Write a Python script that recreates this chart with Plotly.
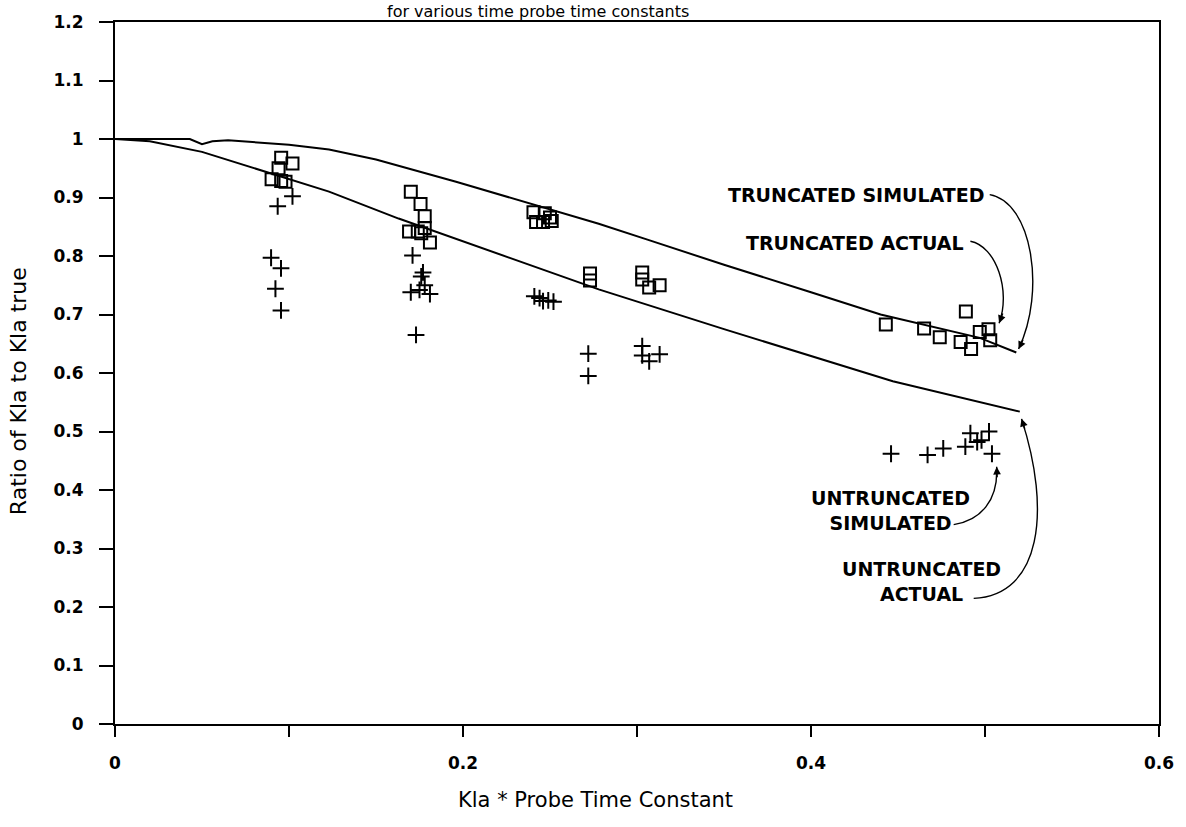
import plotly.graph_objects as go

# Simulated curves: ratio of measured to true Kla vs Kla * probe time constant
trunc_sim_x = [0.0, 0.02, 0.043, 0.050, 0.056, 0.065, 0.10, 0.123, 0.15, 0.196, 0.25, 0.278,
               0.306, 0.35, 0.40, 0.44, 0.497, 0.518]
trunc_sim_y = [1.0, 1.0, 1.0, 0.991, 0.996, 0.998, 0.990, 0.982, 0.965, 0.927, 0.880, 0.855,
               0.828, 0.785, 0.738, 0.700, 0.660, 0.635]

untrunc_act_x = [0.0, 0.02, 0.05, 0.087, 0.123, 0.163, 0.20, 0.278, 0.35, 0.447, 0.52]
untrunc_act_y = [1.0, 0.996, 0.978, 0.944, 0.910, 0.864, 0.825, 0.743, 0.675, 0.586, 0.534]

# Truncated fits (open squares)
sq_x = [0.090, 0.094, 0.0955, 0.0955, 0.098, 0.102,
        0.170, 0.1756, 0.178, 0.169, 0.174, 0.178, 0.176, 0.181,
        0.2405, 0.247, 0.250, 0.242, 0.246, 0.251,
        0.273, 0.273, 0.303, 0.303, 0.307, 0.313,
        0.443, 0.465, 0.474, 0.486, 0.489, 0.492, 0.497, 0.502, 0.503]
sq_y = [0.931, 0.950, 0.968, 0.928, 0.927, 0.958,
        0.910, 0.889, 0.868, 0.842, 0.842, 0.848, 0.839, 0.823,
        0.875, 0.873, 0.866, 0.858, 0.858, 0.860,
        0.770, 0.758, 0.772, 0.760, 0.746, 0.750,
        0.683, 0.676, 0.661, 0.653, 0.705, 0.641, 0.670, 0.675, 0.656]

# Untruncated fits (plus signs)
pl_x = [0.102, 0.0935, 0.0897, 0.0954, 0.0922, 0.0954,
        0.171, 0.177, 0.176, 0.170, 0.175, 0.178, 0.181, 0.173,
        0.241, 0.244, 0.246, 0.249, 0.252,
        0.272, 0.272, 0.303, 0.303, 0.307, 0.313,
        0.446, 0.467, 0.476, 0.4887, 0.4916, 0.4955, 0.498, 0.5023, 0.504]
pl_y = [0.902, 0.885, 0.797, 0.779, 0.744, 0.707,
        0.801, 0.772, 0.765, 0.738, 0.742, 0.750, 0.735, 0.665,
        0.731, 0.728, 0.723, 0.724, 0.722,
        0.633, 0.595, 0.646, 0.630, 0.620, 0.632,
        0.462, 0.460, 0.471, 0.474, 0.497, 0.482, 0.485, 0.500, 0.462]

x_tickvals = [0, 0.1, 0.2, 0.3, 0.4, 0.5, 0.6]
x_ticktext = ["0", "", "0.2", "", "0.4", "", "0.6"]
y_tickvals = [0, 0.1, 0.2, 0.3, 0.4, 0.5, 0.6, 0.7, 0.8, 0.9, 1.0, 1.1, 1.2]
y_ticktext = ["0", "0.1", "0.2", "0.3", "0.4", "0.5", "0.6", "0.7", "0.8", "0.9", "1", "1.1", "1.2"]

FONT = "DejaVu Sans"
INK = "black"

fig = go.Figure()
fig.add_trace(go.Scatter(x=trunc_sim_x, y=trunc_sim_y, mode="lines",
                         line=dict(color=INK, width=2), showlegend=False))
fig.add_trace(go.Scatter(x=untrunc_act_x, y=untrunc_act_y, mode="lines",
                         line=dict(color=INK, width=2), showlegend=False))
fig.add_trace(go.Scatter(x=sq_x, y=sq_y, mode="markers",
                         marker=dict(symbol="square-open", size=12, color=INK,
                                     line=dict(color=INK, width=2)),
                         showlegend=False))
fig.add_trace(go.Scatter(x=pl_x, y=pl_y, mode="markers",
                         marker=dict(symbol="cross-thin", size=12, color=INK,
                                     line=dict(color=INK, width=2)),
                         showlegend=False))

# Curved leader lines (cubic Bezier in data coordinates) ending in arrowheads
leaders = [
    # (start, ctrl1, ctrl2, end)
    ((0.5027, 0.905), (0.5267, 0.893), (0.5353, 0.741), (0.5193, 0.641)),
    ((0.4916, 0.8253), (0.5065, 0.8168), (0.5150, 0.740), (0.5081, 0.6852)),
    ((0.4820, 0.3409), (0.4974, 0.3477), (0.5077, 0.3818), (0.5067, 0.4397)),
    ((0.4935, 0.2148), (0.5324, 0.2199), (0.5381, 0.3648), (0.5210, 0.5216)),
]
PX_X = 1746.7  # pixels per x unit
PX_Y = 586.7   # pixels per y unit
for (s, c1, c2, e) in leaders:
    path = (f"M {s[0]},{s[1]} C {c1[0]},{c1[1]} {c2[0]},{c2[1]} {e[0]},{e[1]}")
    fig.add_shape(type="path", path=path, xref="x", yref="y",
                  line=dict(color=INK, width=1.4))
    dx = (c2[0] - e[0]) * PX_X
    dy = -(c2[1] - e[1]) * PX_Y
    n = (dx * dx + dy * dy) ** 0.5
    fig.add_annotation(x=e[0], y=e[1], xref="x", yref="y", text="",
                       showarrow=True, arrowhead=2, arrowsize=1.1, arrowwidth=1.4,
                       arrowcolor=INK, ax=dx / n * 12, ay=dy / n * 12)

label_font = dict(family=FONT, size=19, color=INK, weight="bold")
fig.add_annotation(x=0.501, y=0.905, xref="x", yref="y", text="TRUNCATED SIMULATED",
                   showarrow=False, xanchor="right", yanchor="middle", font=label_font)
fig.add_annotation(x=0.489, y=0.823, xref="x", yref="y", text="TRUNCATED ACTUAL",
                   showarrow=False, xanchor="right", yanchor="middle", font=label_font)
fig.add_annotation(x=0.4455, y=0.365, xref="x", yref="y", text="UNTRUNCATED<br>SIMULATED",
                   showarrow=False, xanchor="center", yanchor="middle", align="center",
                   font=label_font)
fig.add_annotation(x=0.4637, y=0.243, xref="x", yref="y", text="UNTRUNCATED<br>ACTUAL",
                   showarrow=False, xanchor="center", yanchor="middle", align="center",
                   font=label_font)

# Axis titles and the subtitle along the top edge
fig.add_annotation(x=0.276, y=0, xref="x", yref="paper", yshift=-76,
                   text="Kla * Probe Time Constant", showarrow=False,
                   xanchor="center", yanchor="middle", font=dict(family=FONT, size=21, color=INK))
fig.add_annotation(x=0, y=0.569, xref="paper", yref="y", xshift=-97,
                   text="Ratio of Kla to Kla true", showarrow=False, textangle=-90,
                   xanchor="center", yanchor="middle", font=dict(family=FONT, size=22, color=INK))
fig.add_annotation(x=0.243, y=1, xref="x", yref="paper", yshift=22,
                   text="for various time probe time constants", showarrow=False,
                   xanchor="center", yanchor="top", font=dict(family=FONT, size=16, color=INK))

axis_common = dict(showgrid=False, zeroline=False, showline=True, linecolor=INK, linewidth=2,
                   mirror=True, ticks="outside", tickcolor=INK, tickwidth=1.5,
                   tickfont=dict(family=FONT, size=17, color=INK, weight="bold"))
fig.update_xaxes(range=[0, 0.6], tickvals=x_tickvals, ticktext=x_ticktext, ticklen=11,
                 ticklabelstandoff=12, **axis_common)
fig.update_yaxes(range=[0, 1.2], tickvals=y_tickvals, ticktext=y_ticktext, ticklen=14,
                 ticklabelstandoff=12, **axis_common)

fig.update_layout(width=1186, height=827, plot_bgcolor="white", paper_bgcolor="white",
                  margin=dict(l=115, r=23, t=20, b=103), showlegend=False)

fig.write_html("out.html")
